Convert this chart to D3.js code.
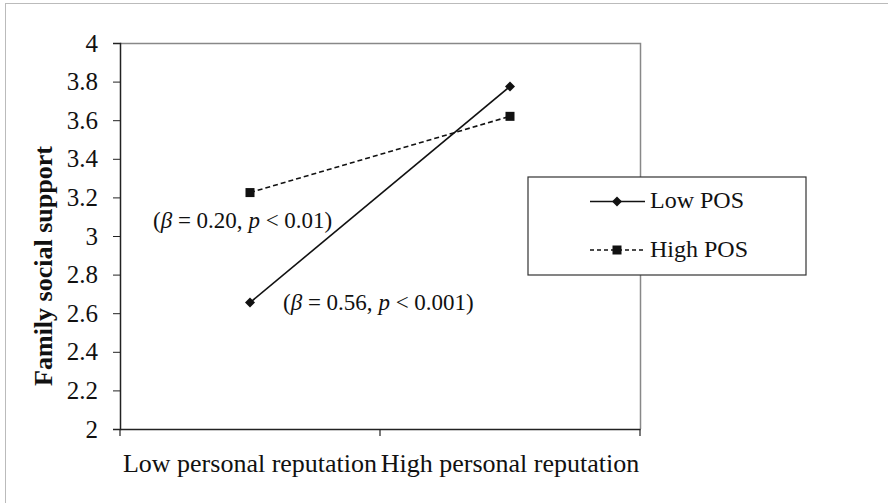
<!DOCTYPE html>
<html><head><meta charset="utf-8">
<script src="https://cdn.jsdelivr.net/npm/d3@7"></script>
<style>body{margin:0;background:#fff;} svg{display:block;font-family:"Liberation Serif","Times New Roman",serif;}</style>
</head><body>
<svg id="c" width="888" height="503"></svg>
<script>
const categories = ["Low personal reputation", "High personal reputation"];
const seriesNames = ["Low POS", "High POS"];
const lowPOS = [2.655, 3.775];
const highPOS = [3.225, 3.62];
const yTicks = [2, 2.2, 2.4, 2.6, 2.8, 3, 3.2, 3.4, 3.6, 3.8, 4];
const annotations = [
  {beta: "0.20", p: "0.01", series: 1, cat: 0},
  {beta: "0.56", p: "0.001", series: 0, cat: 0}
];

const svg = d3.select("#c");
const L = 120, R = 640, T = 43, B = 429;

svg.append("rect").attr("x", 5.5).attr("y", 3.5).attr("width", 1000).attr("height", 1000)
  .attr("fill", "none").attr("stroke", "#bbb").attr("stroke-width", 1);

const y = d3.scaleLinear().domain([2, 4]).range([B, T]);
const xb = d3.scaleBand().domain(categories).range([L, R]);
const xc = d => xb(d) + xb.bandwidth() / 2;

// plot border top/right
svg.append("path").attr("d", `M${L},${T+0.5}H${R+0.5}V${B}`).attr("fill", "none").attr("stroke", "#888").attr("stroke-width", 1.5);

// y axis
const ya = svg.append("g").attr("transform", `translate(${L},0)`)
  .call(d3.axisLeft(y).tickValues(yTicks).tickSize(7).tickPadding(15).tickFormat(d => d3.format("")(+d.toFixed(1))));
ya.select(".domain").attr("stroke", "#222").attr("stroke-width", 1.5);
ya.selectAll(".tick line").attr("stroke", "#222");
ya.selectAll("text").attr("font-size", 25).attr("fill", "#111").attr("font-family", "Liberation Serif");

// x axis
const xa = svg.append("g").attr("transform", `translate(0,${B})`)
  .call(d3.axisBottom(xb).tickSize(0));
xa.select(".domain").attr("stroke", "#222").attr("stroke-width", 1.5);
xa.selectAll("text").attr("dy", null).attr("y", 43).attr("font-size", 26).attr("fill", "#111").attr("font-family", "Liberation Serif");
// boundary ticks
const bounds = [L, (L + R) / 2, R];
xa.selectAll(".bt").data(bounds).enter().append("line")
  .attr("x1", d => d).attr("x2", d => d).attr("y1", 0).attr("y2", 7).attr("stroke", "#222").attr("stroke-width", 1.2);

// y title
svg.append("text").attr("transform", `translate(52,266) rotate(-90)`)
  .attr("text-anchor", "middle").attr("font-size", 26).attr("font-weight", "bold").attr("fill", "#111")
  .text("Family social support");

const line = d3.line().x((d, i) => xc(categories[i])).y(d => y(d));
const data = [lowPOS, highPOS];
const dashes = [null, "5,3"];

data.forEach((s, k) => {
  svg.append("path").attr("d", line(s)).attr("fill", "none").attr("stroke", "#111")
    .attr("stroke-width", 1.6).attr("stroke-dasharray", dashes[k]);
});
function marker(g, k, cx, cy) {
  if (k === 0) {
    g.append("path").attr("d", `M${cx},${cy-5}L${cx+5},${cy}L${cx},${cy+5}L${cx-5},${cy}Z`).attr("fill", "#111");
  } else {
    g.append("rect").attr("x", cx - 4.5).attr("y", cy - 4.5).attr("width", 9).attr("height", 9).attr("fill", "#111");
  }
}
data.forEach((s, k) => s.forEach((v, i) => marker(svg, k, xc(categories[i]), y(v))));

// annotations
const annPos = [{x: 153, y: 228}, {x: 283, y: 310}];
annotations.forEach((a, j) => {
  const t = svg.append("text").attr("x", annPos[j].x).attr("y", annPos[j].y)
    .attr("font-size", 23).attr("fill", "#111");
  t.append("tspan").text("(");
  t.append("tspan").attr("font-style", "italic").text("β");
  t.append("tspan").text(` = ${a.beta}, `);
  t.append("tspan").attr("font-style", "italic").text("p");
  t.append("tspan").text(` < ${a.p})`);
});

// legend
const lg = svg.append("g");
lg.append("rect").attr("x", 528).attr("y", 177).attr("width", 278).attr("height", 98)
  .attr("fill", "#fff").attr("stroke", "#333").attr("stroke-width", 1.2);
seriesNames.forEach((n, k) => {
  const ly = 201.5 + k * 48.5;
  lg.append("line").attr("x1", 590).attr("x2", 645).attr("y1", ly).attr("y2", ly)
    .attr("stroke", "#111").attr("stroke-width", 1.6).attr("stroke-dasharray", dashes[k] ? "4,3" : null);
  marker(lg, k, 617, ly);
  lg.append("text").attr("x", 650).attr("y", ly + 6.5).attr("font-size", 24).attr("fill", "#111").text(n);
});
</script>
</body></html>
